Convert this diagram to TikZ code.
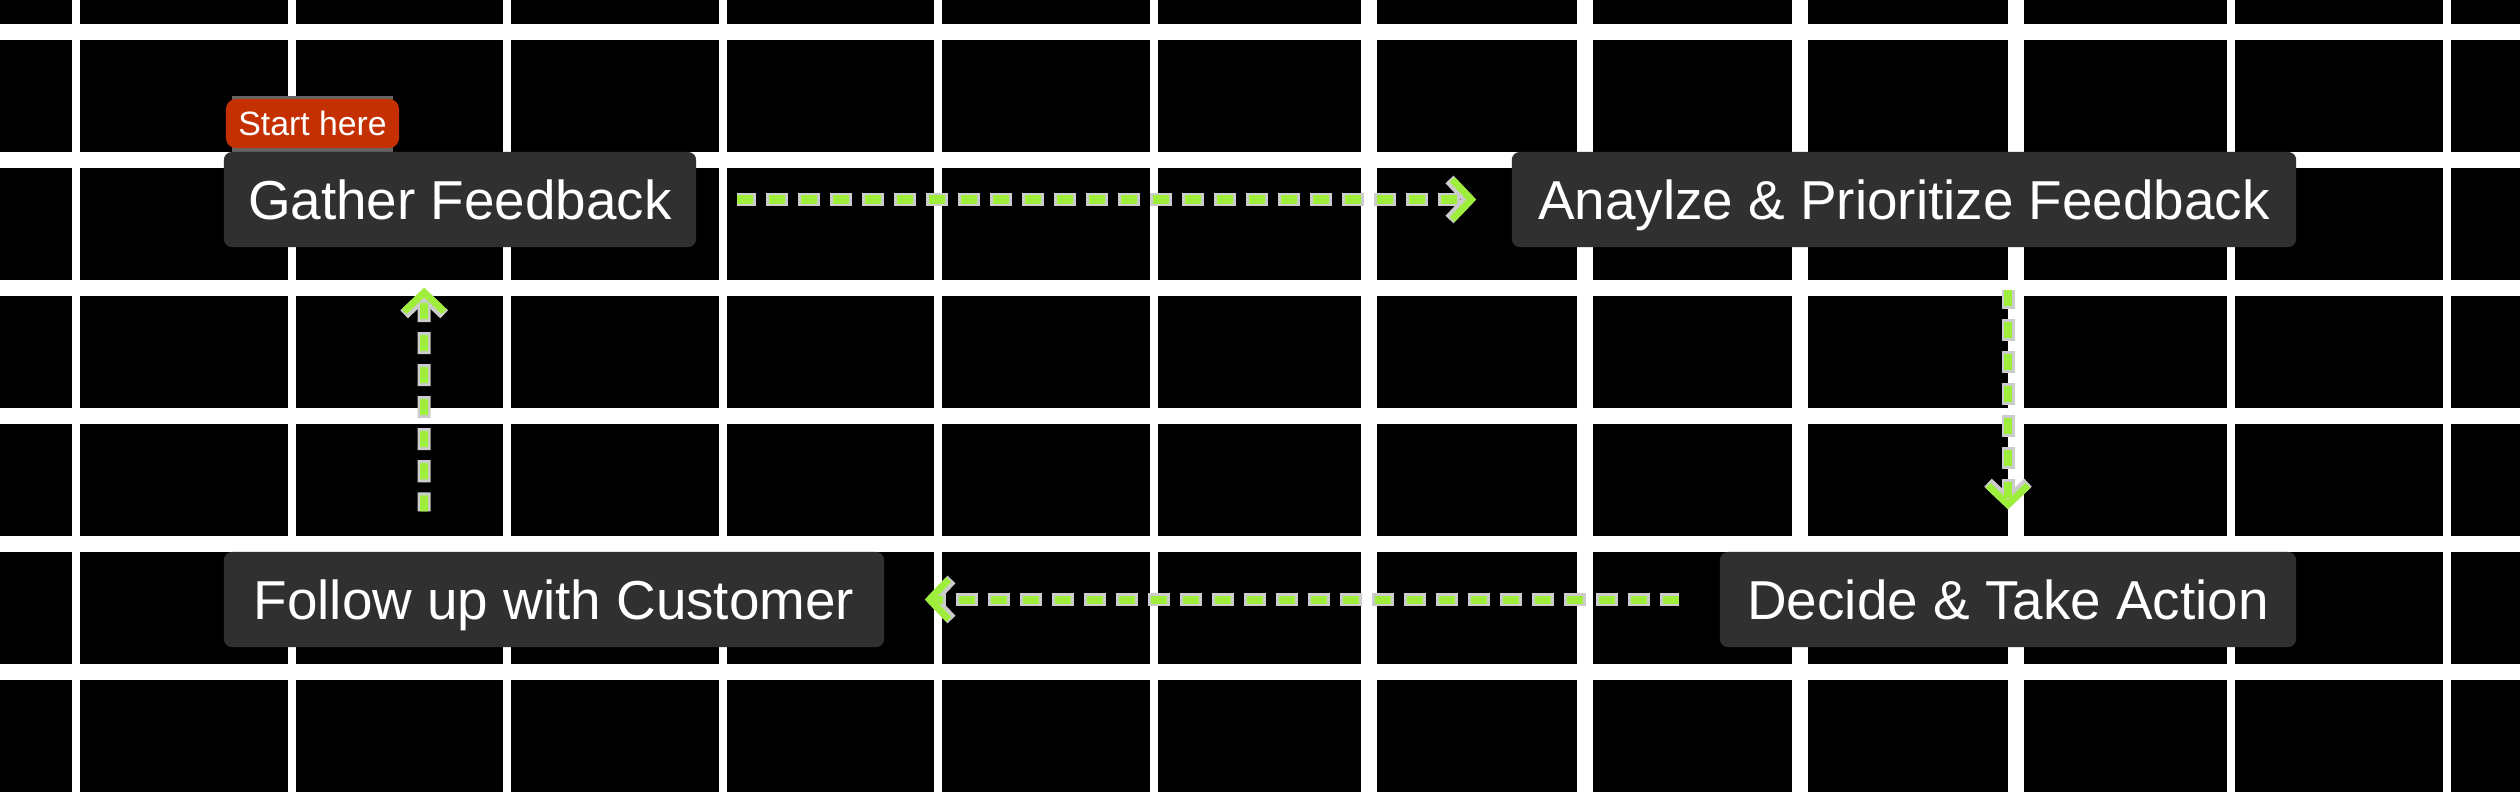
\documentclass[tikz,border=0pt]{standalone}
\usepackage{fontspec}
\setmainfont{Liberation Sans}
\usetikzlibrary{arrows.meta,calc}
\definecolor{bgblack}{RGB}{0,0,0}
\definecolor{gridwhite}{RGB}{255,255,255}
\definecolor{boxfill}{RGB}{48,48,48}
\definecolor{tagred}{RGB}{197,48,2}
\definecolor{flowgreen}{RGB}{160,238,60}
\definecolor{halogray}{RGB}{204,204,204}
\definecolor{tagshade}{RGB}{100,100,100}
\begin{document}
\begin{tikzpicture}[x=0.01cm,y=-0.01cm,
  stepbox/.style={fill=boxfill, rounded corners=0.08cm, minimum height=0.95cm, inner sep=0pt,
    text=white, font=\fontsize{15.6pt}{18pt}\selectfont, text height=11.2pt, text depth=0pt},
  tagbox/.style={fill=tagred, rounded corners=0.1cm, minimum width=1.73cm, minimum height=0.49cm,
    inner sep=0pt, text=white, font=\fontsize{9.6pt}{11pt}\selectfont, text height=6.9pt, text depth=0pt},
  halo/.style={draw=halogray, line width=0.13cm, dash pattern=on 0.22cm off 0.10cm, dash phase=0.03cm,
    -{Straight Barb[length=0.19cm,width=0.40cm,line width=0.11cm]}},
  flow/.style={draw=flowgreen, line width=0.08cm, dash pattern=on 0.16cm off 0.16cm,
    -{Straight Barb[length=0.19cm,width=0.40cm,line width=0.07cm]}},
  thinline/.style={draw=gridwhite, line width=0.08cm},
  thickline/.style={draw=gridwhite, line width=0.16cm}
]
\useasboundingbox (0,0) rectangle (2520,800);
\fill[bgblack] (0,0) rectangle (2520,800);
% grid
\foreach \k in {0,1,2,3,4,5,10,11}
  \draw[thinline] ({76+215.5*\k},0) -- ({76+215.5*\k},800);
\foreach \k in {6,7,8,9}
  \draw[thickline] ({76+215.5*\k},0) -- ({76+215.5*\k},800);
\foreach \j in {0,...,6}
  \draw[thickline] (0,{32+128*\j}) -- (2520,{32+128*\j});
% tag shade
\fill[tagshade] (232,96) rectangle (393,152);
% nodes
\node[stepbox, minimum width=4.72cm] (gather) at (460,199.5) {Gather Feedback};
\node[stepbox, minimum width=7.84cm] (analyze) at (1904,199.5) {Anaylze \& Prioritize Feedback};
\node[stepbox, minimum width=6.60cm] (follow) at (554,599.5) {Follow up with Customer};
\node[stepbox, minimum width=5.76cm] (decide) at (2008,599.5) {Decide \& Take Action};
\node[tagbox] (start) at (312.5,123.5) {Start here};
% connectors
\draw[halo] ($(gather.east)+(40,0)$) -- ($(analyze.west)+(-35,0)$);
\draw[flow] ($(gather.east)+(40,0)$) -- ($(analyze.west)+(-35,0)$);
\draw[halo] ($(decide.north |- analyze.south)+(0,42)$) -- ($(decide.north)+(0,-42)$);
\draw[flow] ($(decide.north |- analyze.south)+(0,42)$) -- ($(decide.north)+(0,-42)$);
\draw[halo] ($(decide.west)+(-40,0)$) -- ($(follow.east)+(40,0)$);
\draw[flow] ($(decide.west)+(-40,0)$) -- ($(follow.east)+(40,0)$);
\draw[halo] ($(follow.north west)+(201,-40)$) -- ($(gather.south west)+(201,40)$);
\draw[flow] ($(follow.north west)+(201,-40)$) -- ($(gather.south west)+(201,40)$);
\end{tikzpicture}
\end{document}
